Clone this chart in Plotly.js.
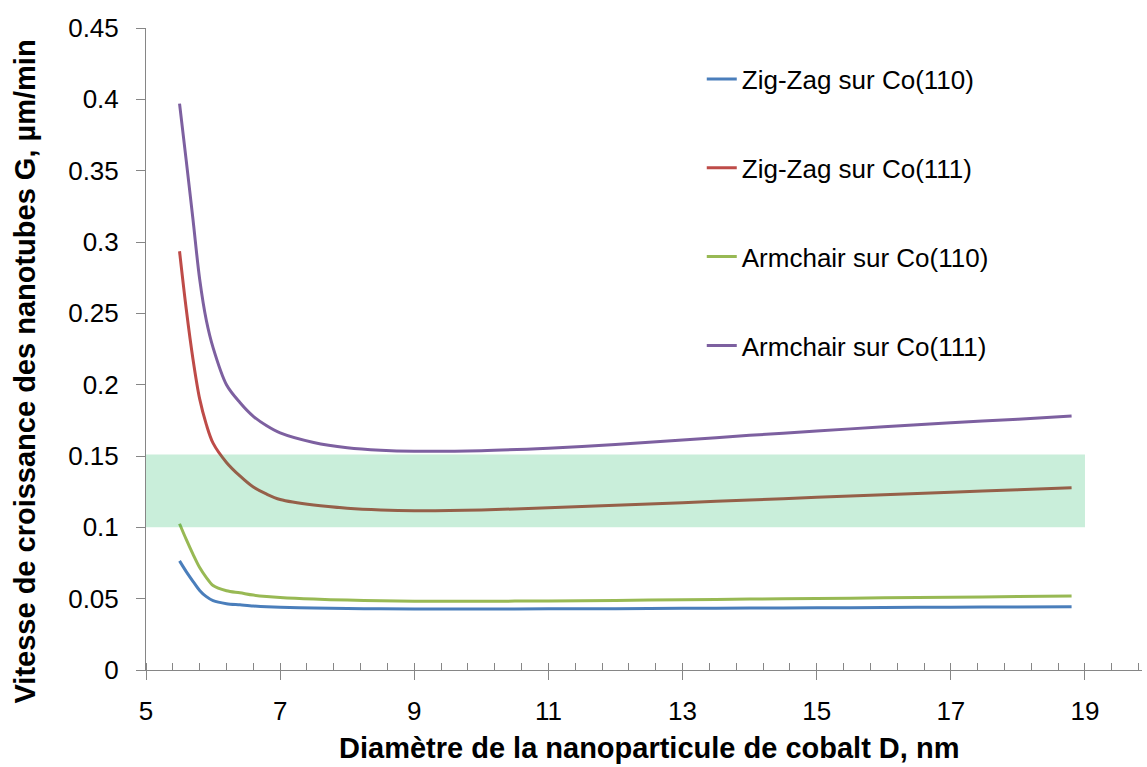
<!DOCTYPE html>
<html>
<head>
<meta charset="utf-8">
<script src="https://cdn.plot.ly/plotly-3.0.1.min.js"></script>
<style>html,body{margin:0;padding:0;background:#fff;}#chart{width:1147px;height:767px;}</style>
</head>
<body>
<div id="chart"></div>
<script>
// Diameter of the cobalt nanoparticle D, nm
var diameters = [5.5,5.6,5.7,5.8,5.9,6.0,6.2,6.4,6.6,6.8,7.0,7.5,8.0,8.5,9,10,11,12,13,14,15,16,17,18,18.8];
var seriesNames = ["Zig-Zag sur Co(110)","Zig-Zag sur Co(111)","Armchair sur Co(110)","Armchair sur Co(111)"];
var zigzag110 = [0.0765,0.069,0.0622,0.0558,0.0514,0.0486,0.0465,0.0457,0.0449,0.0443,0.0439,0.0434,0.0431,0.0429,0.0428,0.0428,0.0429,0.0430,0.0432,0.0434,0.0436,0.0438,0.0440,0.0442,0.0444];
var zigzag111 = [0.2935,0.253,0.218,0.19,0.172,0.159,0.1455,0.136,0.1282,0.1232,0.1195,0.1156,0.1134,0.1122,0.1117,0.1122,0.1137,0.1155,0.1173,0.1192,0.121,0.1228,0.1246,0.1263,0.1278];
var armchair110 = [0.1025,0.0915,0.0812,0.0718,0.0648,0.0592,0.0556,0.0541,0.0525,0.0515,0.0508,0.0497,0.049,0.0485,0.0482,0.0482,0.0484,0.0488,0.0492,0.0497,0.0501,0.0506,0.051,0.0515,0.0519];
var armchair111 = [0.397,0.357,0.316,0.274,0.245,0.226,0.2,0.1875,0.1778,0.1712,0.1662,0.1595,0.1558,0.154,0.1533,0.1537,0.1555,0.158,0.1612,0.1645,0.1675,0.1705,0.1733,0.1758,0.178];
var seriesColors = ["#4A7EBB","#BE4B48","#98B954","#7D60A0"];
// Highlighted band
var bandX = [5, 19];
var bandY = [0.1, 0.151];
// Ticks
var xTickVals = [5,7,9,11,13,15,17,19];
var xTickText = ["5","7","9","11","13","15","17","19"];
var yTickVals = [0,0.05,0.1,0.15,0.2,0.25,0.3,0.35,0.4,0.45];
var yTickText = ["0","0.05","0.1","0.15","0.2","0.25","0.3","0.35","0.4","0.45"];

var allSeries = [zigzag110, zigzag111, armchair110, armchair111];
var traces = allSeries.map(function(vals, i){
  return {
    x: diameters, y: vals, type: 'scatter', mode: 'lines',
    name: seriesNames[i], legendgroup: 'g'+i,
    line: {color: seriesColors[i], width: 3, shape: 'spline', smoothing: 0.9}
  };
});
// overlay axis only for crossing major ticks
traces.push({x:[xTickVals[0]], y:[0], xaxis:'x2', yaxis:'y', mode:'markers', marker:{opacity:0}, showlegend:false, hoverinfo:'skip'});

var gray = '#868686';
var layout = {
  width: 1147, height: 767,
  margin: {l:146, r:5, t:28, b:97},
  paper_bgcolor: '#ffffff', plot_bgcolor: '#ffffff',
  font: {family: 'Liberation Sans, Arial, sans-serif', color: '#000000', size: 26},
  showlegend: true,
  legend: {
    x: 0.558, xanchor: 'left', y: 0.957, yanchor: 'top',
    font: {family: 'Liberation Sans, Arial, sans-serif', size: 26, color: '#000'},
    tracegroupgap: 52, bgcolor: 'rgba(0,0,0,0)', borderwidth: 0,
    traceorder: 'grouped'
  },
  xaxis: {
    range: [5, 19.85], showgrid: false, zeroline: false,
    showline: true, linecolor: gray, linewidth: 1,
    tickvals: xTickVals, ticktext: xTickText,
    ticks: 'outside', ticklen: 9, tickcolor: gray, tickwidth: 1,
    ticklabelstandoff: 9,
    minor: {dtick: 0.4, tick0: 5, ticks: 'inside', ticklen: 7, tickcolor: gray, tickwidth: 1, showgrid: false},
    tickfont: {size: 26}
  },
  xaxis2: {
    overlaying: 'x', anchor: 'y', range: [5, 19.85], showgrid: false, zeroline: false,
    showline: false, tickvals: xTickVals, showticklabels: false,
    ticks: 'inside', ticklen: 7, tickcolor: gray, tickwidth: 1
  },
  yaxis: {
    range: [0, 0.45], showgrid: false, zeroline: false,
    showline: true, linecolor: gray, linewidth: 1,
    tickvals: yTickVals, ticktext: yTickText,
    ticks: 'outside', ticklen: 9, tickcolor: gray, tickwidth: 1,
    ticklabelstandoff: 12,
    tickfont: {size: 26}
  },
  shapes: [{
    type: 'rect', xref: 'x', yref: 'y',
    x0: bandX[0], x1: bandX[1], y0: bandY[0], y1: bandY[1],
    fillcolor: 'rgba(0,176,80,0.21)', line: {width: 0}, layer: 'above'
  }],
  annotations: [
    {text: '<b>Vitesse de croissance des nanotubes G, µm/min</b>', xref: 'paper', yref: 'paper',
     x: -0.1215, y: 0.465, xanchor: 'center', yanchor: 'middle', textangle: -90, showarrow: false,
     font: {family: 'Liberation Sans, Arial, sans-serif', size: 29, color: '#000'}},
    {text: '<b>Diamètre de la nanoparticule de cobalt D, nm</b>', xref: 'paper', yref: 'paper',
     x: 0.505, y: -0.122, xanchor: 'center', yanchor: 'middle', showarrow: false,
     font: {family: 'Liberation Sans, Arial, sans-serif', size: 29, color: '#000'}}
  ]
};
Plotly.newPlot('chart', traces, layout, {displayModeBar: false, staticPlot: true});
</script>
</body>
</html>
